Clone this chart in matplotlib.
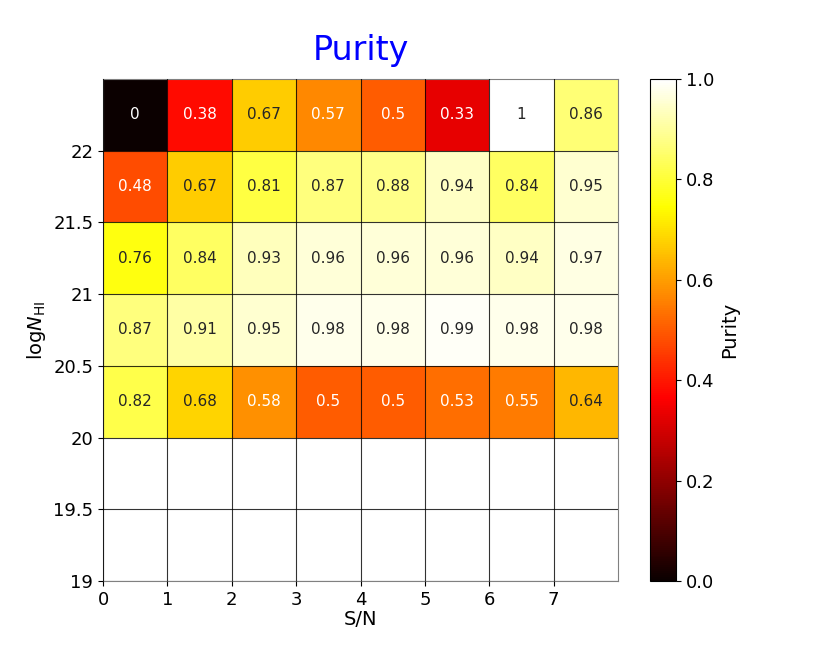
import numpy as np
import matplotlib
matplotlib.use("Agg")
import matplotlib.pyplot as plt

sn_edges = [0, 1, 2, 3, 4, 5, 6, 7, 8]
nhi_edges = [19.0, 19.5, 20.0, 20.5, 21.0, 21.5, 22.0, 22.5]

# rows from bottom (19-19.5) to top (22-22.5)
row_19_0 = [np.nan] * 8
row_19_5 = [np.nan] * 8
row_20_0 = [0.82, 0.68, 0.58, 0.50, 0.50, 0.53, 0.55, 0.64]
row_20_5 = [0.87, 0.91, 0.95, 0.98, 0.98, 0.99, 0.98, 0.98]
row_21_0 = [0.76, 0.84, 0.93, 0.96, 0.96, 0.96, 0.94, 0.97]
row_21_5 = [0.48, 0.67, 0.81, 0.87, 0.88, 0.94, 0.84, 0.95]
row_22_0 = [0.0, 0.38, 0.67, 0.57, 0.50, 0.33, 1.0, 0.86]

labels_20_0 = ["0.82", "0.68", "0.58", "0.5", "0.5", "0.53", "0.55", "0.64"]
labels_20_5 = ["0.87", "0.91", "0.95", "0.98", "0.98", "0.99", "0.98", "0.98"]
labels_21_0 = ["0.76", "0.84", "0.93", "0.96", "0.96", "0.96", "0.94", "0.97"]
labels_21_5 = ["0.48", "0.67", "0.81", "0.87", "0.88", "0.94", "0.84", "0.95"]
labels_22_0 = ["0", "0.38", "0.67", "0.57", "0.5", "0.33", "1", "0.86"]

data = np.array([row_19_0, row_19_5, row_20_0, row_20_5, row_21_0, row_21_5, row_22_0])
labels = [None, None, labels_20_0, labels_20_5, labels_21_0, labels_21_5, labels_22_0]

fig = plt.figure(figsize=(8.3, 6.64), dpi=100)
ax = fig.add_axes([103 / 830, 1 - 581 / 664, (618 - 103) / 830, (581 - 79) / 664])
cax = fig.add_axes([650 / 830, 1 - 581 / 664, (676 - 650) / 830, (581 - 79) / 664])

mesh = ax.pcolormesh(sn_edges, nhi_edges, np.ma.masked_invalid(data),
                     cmap="hot", vmin=0, vmax=1)

for i, row in enumerate(labels):
    if row is None:
        continue
    for j, txt in enumerate(row):
        v = data[i, j]
        col = "white" if v < 0.6 else "#262626"
        ax.text(sn_edges[j] + 0.5, nhi_edges[i] + 0.25, txt, ha="center", va="center",
                fontsize=11, color=col)

ax.set_xlim(0, 8)
ax.set_ylim(19, 22.5)
ax.set_xticks([0, 1, 2, 3, 4, 5, 6, 7])
ax.set_yticks([19, 19.5, 20, 20.5, 21, 21.5, 22])
ax.set_yticklabels(["19", "19.5", "20", "20.5", "21", "21.5", "22"])
ax.tick_params(labelsize=13)
ax.grid(True, color="black", linewidth=0.8, alpha=0.8)
ax.set_axisbelow(False)
for s in ax.spines.values():
    s.set_color("#808080")
ax.set_xlabel("S/N", fontsize=14, labelpad=1)
ax.set_ylabel(r"log$N_{\rm HI}$", fontsize=14, labelpad=4)
ax.set_title("Purity", fontsize=24, color="blue", pad=14)

cb = fig.colorbar(mesh, cax=cax)
cb.set_ticks([0, 0.2, 0.4, 0.6, 0.8, 1.0])
cb.ax.tick_params(labelsize=13)
cb.set_label("Purity", fontsize=14)

fig.savefig("out.png", dpi=100)
